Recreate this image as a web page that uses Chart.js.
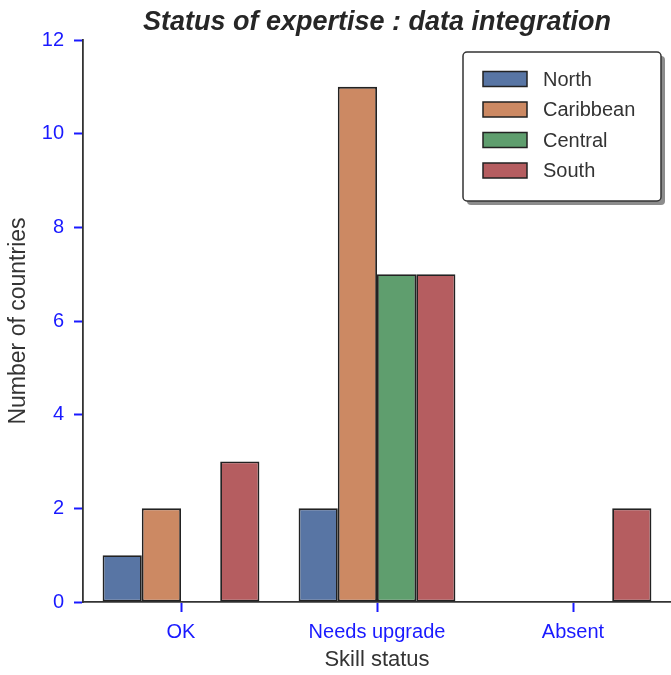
<!DOCTYPE html>
<html>
<head>
<meta charset="utf-8">
<script src="https://cdn.jsdelivr.net/npm/chart.js@4"></script>
<style>
  html, body { margin: 0; padding: 0; background: #ffffff; }
  #wrap { width: 671px; height: 675px; }
</style>
</head>
<body>
<div id="wrap"><canvas id="myChart" width="671" height="675"></canvas></div>
<script>
'use strict';

var categories = ['OK', 'Needs upgrade', 'Absent'];
var regions = ['North', 'Caribbean', 'Central', 'South'];
var colours = ['#5875a4', '#cc8963', '#5f9e6e', '#b55d60'];

var northValues = [1, 2, 0];
var caribbeanValues = [2, 11, 0];
var centralValues = [0, 7, 0];
var southValues = [3, 7, 2];

var yTicks = [0, 2, 4, 6, 8, 10, 12];

var FONT = '"Liberation Sans", Arial, sans-serif';
var TICK_BLUE = '#1a1aff';
var AXIS_GREY = '#333333';

// Title and boxed legend drawn on top of the plot
var decorations = {
    id: 'decorations',
    afterDraw: function (chart) {
        var ctx = chart.ctx;
        var area = chart.chartArea;

        ctx.save();
        ctx.fillStyle = '#262626';
        ctx.font = 'italic bold 27px ' + FONT;
        ctx.textAlign = 'center';
        ctx.textBaseline = 'alphabetic';
        ctx.fillText('Status of expertise : data integration', (area.left + area.right) / 2, 30);

        // legend box with drop shadow
        var bx = 463, by = 52, bw = 198, bh = 149;
        ctx.fillStyle = '#8c8c8c';
        roundRect(ctx, bx + 4, by + 4, bw, bh, 4);
        ctx.fill();
        ctx.fillStyle = '#ffffff';
        ctx.strokeStyle = AXIS_GREY;
        ctx.lineWidth = 1.5;
        roundRect(ctx, bx, by, bw, bh, 4);
        ctx.fill();
        ctx.stroke();

        ctx.font = '20px ' + FONT;
        ctx.textAlign = 'left';
        ctx.textBaseline = 'middle';
        chart.data.datasets.forEach(function (ds, i) {
            var cy = 79 + i * 30.5;
            ctx.fillStyle = ds.backgroundColor;
            ctx.fillRect(483, cy - 7.5, 44, 15);
            ctx.strokeStyle = '#222222';
            ctx.lineWidth = 1.5;
            ctx.strokeRect(483, cy - 7.5, 44, 15);
            ctx.fillStyle = '#333333';
            ctx.fillText(ds.label, 543, cy + 1);
        });
        ctx.restore();
    }
};

function roundRect(ctx, x, y, w, h, r) {
    ctx.beginPath();
    ctx.moveTo(x + r, y);
    ctx.lineTo(x + w - r, y);
    ctx.arcTo(x + w, y, x + w, y + r, r);
    ctx.lineTo(x + w, y + h - r);
    ctx.arcTo(x + w, y + h, x + w - r, y + h, r);
    ctx.lineTo(x + r, y + h);
    ctx.arcTo(x, y + h, x, y + h - r, r);
    ctx.lineTo(x, y + r);
    ctx.arcTo(x, y, x + r, y, r);
    ctx.closePath();
}

var seriesValues = [northValues, caribbeanValues, centralValues, southValues];
var datasets = regions.map(function (name, i) {
    return {
        label: name,
        data: seriesValues[i],
        backgroundColor: colours[i],
        borderColor: '#222222',
        borderWidth: 1.8,
        borderSkipped: false,
        categoryPercentage: 0.8,
        barPercentage: 1.0
    };
});

var chart = new Chart(document.getElementById('myChart'), {
    type: 'bar',
    data: {
        labels: categories,
        datasets: datasets
    },
    plugins: [decorations],
    options: {
        responsive: false,
        animation: false,
        layout: {
            padding: { top: 40, right: 0, left: 0, bottom: 0 }
        },
        plugins: {
            legend: { display: false },
            title: { display: false },
            tooltip: { enabled: false }
        },
        scales: {
            x: {
                afterFit: function (scale) { scale.height = 73; },
                grid: {
                    offset: false,
                    drawOnChartArea: false,
                    drawTicks: true,
                    tickLength: 10,
                    tickWidth: 2,
                    tickColor: TICK_BLUE
                },
                border: { color: AXIS_GREY, width: 1.8 },
                ticks: {
                    color: TICK_BLUE,
                    padding: 8,
                    font: { family: FONT, size: 20 }
                },
                title: {
                    display: true,
                    text: 'Skill status',
                    color: '#333333',
                    padding: { top: 0, bottom: 2 },
                    font: { family: FONT, size: 22 }
                }
            },
            y: {
                min: 0,
                max: 12,
                afterFit: function (scale) { scale.width = 83; },
                afterBuildTicks: function (scale) {
                    scale.ticks = yTicks.map(function (v) { return { value: v }; });
                },
                grid: {
                    drawOnChartArea: false,
                    drawTicks: true,
                    tickLength: 9,
                    tickWidth: 2,
                    tickColor: TICK_BLUE
                },
                border: { color: AXIS_GREY, width: 1.8 },
                ticks: {
                    color: TICK_BLUE,
                    padding: 10,
                    font: { family: FONT, size: 20 }
                },
                title: {
                    display: true,
                    text: 'Number of countries',
                    color: '#333333',
                    padding: { top: 5, bottom: 0 },
                    font: { family: FONT, size: 23 }
                }
            }
        }
    }
});
</script>
</body>
</html>
